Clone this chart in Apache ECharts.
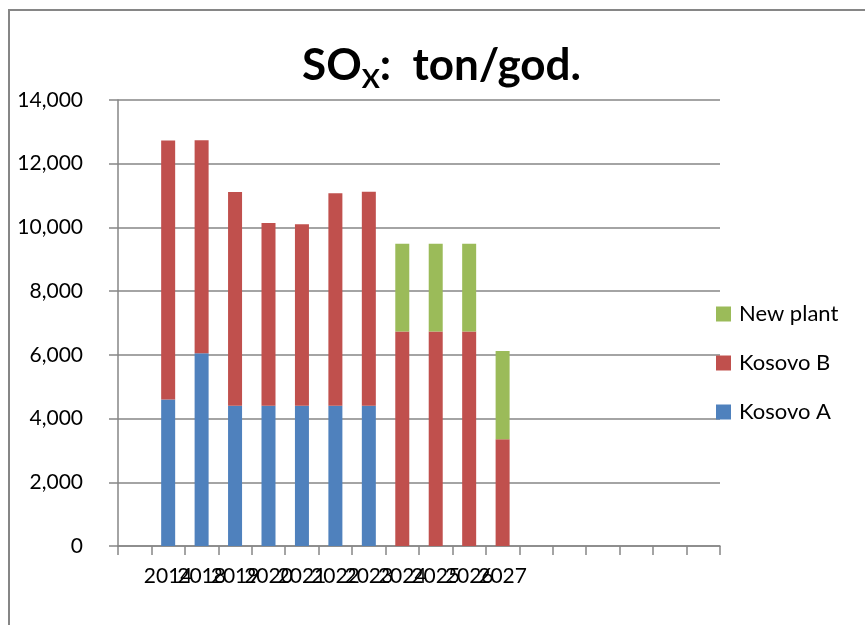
<!DOCTYPE html>
<html>
<head>
<meta charset="utf-8">
<script src="https://cdn.jsdelivr.net/npm/echarts@6/dist/echarts.min.js"></script>
<style>
  html, body { margin: 0; padding: 0; background: #fff; }
  #chart { width: 865px; height: 625px; }
</style>
</head>
<body>
<div id="chart"></div>
<script>
// categories (first slot and the trailing ones are empty in the original)
const years = ['', '2014', '2018', '2019', '2020', '2021', '2022', '2023',
               '2024', '2025', '2026', '2027', '', '', '', '', '', ''];
const kosovoA  = [null, 4600, 6050, 4400, 4400, 4400, 4400, 4400, null, null, null, null];
const kosovoB  = [null, 8130, 6690, 6710, 5740, 5700, 6670, 6720, 6730, 6730, 6730, 3350];
const newPlant = [null, null, null, null, null, null, null, null, 2760, 2760, 2760, 2770];
const yTicks = { min: 0, max: 14000, step: 2000 };

const gray = '#868686';
const font = 'Lato, "Open Sans", sans-serif';

const chart = echarts.init(document.getElementById('chart'), null, { renderer: 'canvas' });

chart.setOption({
    animation: false,
    color: ['#4F81BD', '#C0504D', '#9BBB59'],
    title: {
        text: '{b|SO}{s|X}{b|:  ton/god.}',
        left: 297,
        top: 39,
        textStyle: {
            rich: {
                b: { fontSize: 44, fontWeight: 'bold', fontFamily: font, color: '#000', lineHeight: 46, verticalAlign: 'top' },
                s: { fontSize: 27, fontWeight: 'bold', fontFamily: font, color: '#000', lineHeight: 27, padding: [22, 0, 0, 0], verticalAlign: 'top' }
            }
        }
    },
    graphic: [{
        type: 'rect',
        shape: { x: 9, y: 10, width: 900, height: 700 },
        style: { fill: 'none', stroke: gray, lineWidth: 2 },
        silent: true
    }],
    legend: {
        orient: 'vertical',
        left: 716,
        top: 303,
        padding: 0,
        itemWidth: 15,
        itemHeight: 15,
        itemGap: 27,
        icon: 'rect',
        data: ['New plant', 'Kosovo B', 'Kosovo A'],
        textStyle: { fontSize: 22, fontFamily: font, color: '#000', padding: [0, 0, 0, 3] }
    },
    grid: {
        left: 118,
        right: 145,
        top: 100,
        bottom: 79,
        containLabel: false
    },
    xAxis: {
        type: 'category',
        data: years,
        axisLine: { lineStyle: { color: gray, width: 1.5 } },
        axisTick: { show: true, interval: 0, length: 9, lineStyle: { color: gray, width: 1.5 } },
        axisLabel: {
            interval: 0,
            hideOverlap: false,
            margin: 20,
            fontSize: 21,
            fontFamily: font,
            color: '#000'
        }
    },
    yAxis: {
        type: 'value',
        min: yTicks.min,
        max: yTicks.max,
        interval: yTicks.step,
        axisLine: { show: true, lineStyle: { color: gray, width: 1.5 } },
        axisTick: { show: true, length: 9, lineStyle: { color: gray, width: 1.5 } },
        splitLine: { lineStyle: { color: gray, width: 1.5 } },
        axisLabel: {
            margin: 35,
            fontSize: 21,
            fontFamily: font,
            color: '#000',
            formatter: v => v.toLocaleString('en-US')
        }
    },
    series: [
        { name: 'Kosovo A', type: 'bar', stack: 'sox', barWidth: 14, data: kosovoA },
        { name: 'Kosovo B', type: 'bar', stack: 'sox', barWidth: 14, data: kosovoB },
        { name: 'New plant', type: 'bar', stack: 'sox', barWidth: 14, data: newPlant }
    ]
});
</script>
</body>
</html>
